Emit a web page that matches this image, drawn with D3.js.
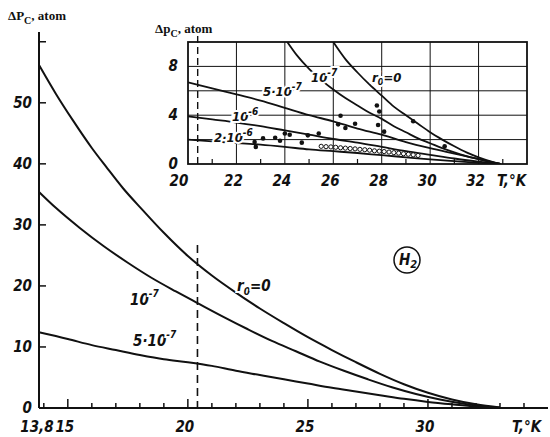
<!DOCTYPE html>
<html><head><meta charset="utf-8">
<script src="https://cdn.jsdelivr.net/npm/d3@7"></script>
<style>
body{margin:0;background:#fff}
svg{display:block}
.num{font-family:"Liberation Sans Narrow","DejaVu Sans Condensed",sans-serif;font-style:italic;font-weight:bold;font-size:15px;fill:#111}
.sm{font-size:13px}
.ttl{font-family:"Liberation Serif","DejaVu Serif",serif;font-weight:bold;font-size:13px;fill:#111}
.halo{stroke:#fff;stroke-width:4px;paint-order:stroke}
</style></head><body><div id="viz"></div><script>
// main panel curves [T, dP]
var mainR0 = [[13.8,56.2],[14.5,51.5],[15.2,47.2],[16,42.6],[16.6,39.5],[17.3,36],[18.1,32.5],[19,28.7],[20,24.9],[21,21.7],[22,18.9],[23,16.3],[24,13.9],[25,11.6],[26,9.5],[27,7.5],[28,5.6],[29,3.9],[30,2.5],[31,1.4],[32,0.6],[33,0.1]]
var main1e7 = [[13.8,35.4],[14.5,32.8],[15.5,29.5],[16.5,26.5],[17.5,23.8],[18.5,21.3],[19.5,19.1],[20.4,17.2],[21.5,14.9],[22.5,12.9],[23.5,11.0],[24.5,9.3],[25.5,7.6],[26.5,6.1],[27.5,4.7],[28.5,3.4],[29.5,2.3],[30.5,1.4],[31.5,0.7],[32.5,0.2],[33,0.05]]
var main5e7 = [[13.8,12.4],[15,11.3],[16,10.3],[17,9.5],[18,8.7],[19,8.0],[20,7.5],[21,6.9],[22,6.1],[23,5.4],[24,4.7],[25,4.0],[26,3.3],[27,2.7],[28,2.1],[29,1.5],[30,1.0],[31,0.6],[32,0.25],[33,0.05]]

// inset curves
var insR0 = [[26.0,10],[26.5,8.6],[27,7.5],[27.5,6.5],[28,5.6],[28.5,4.7],[29,4.0],[29.5,3.3],[30,2.6],[30.5,2.0],[31,1.45],[31.5,0.95],[32,0.55],[32.5,0.22],[32.9,0]]
var ins1e7 = [[24.1,10],[24.5,8.9],[25,7.8],[25.5,6.9],[26,6.1],[26.5,5.4],[27,4.8],[27.5,4.2],[28,3.7],[28.5,3.1],[29,2.6],[29.5,2.1],[30,1.7],[30.5,1.3],[31,0.95],[31.5,0.65],[32,0.4],[32.5,0.15],[32.9,0]]
var ins5e7 = [[20,6.7],[21,6.2],[22,5.7],[23,5.2],[24,4.6],[25,4.0],[26,3.5],[27,2.9],[28,2.4],[29,1.8],[30,1.3],[31,0.85],[32,0.4],[32.9,0]]
var ins1e6 = [[20,3.9],[21,3.65],[22,3.4],[23,3.1],[24,2.75],[25,2.4],[26,2.05],[27,1.75],[28,1.4],[29,1.05],[30,0.75],[31,0.45],[32,0.2],[32.9,0]]
var ins2e6 = [[20,2.0],[21,1.85],[22,1.72],[23,1.58],[24,1.4],[25,1.2],[26,1.05],[27,0.9],[28,0.72],[29,0.55],[30,0.38],[31,0.24],[32,0.1],[32.9,0]]

var dotsFilled = [[22.75,1.8],[22.8,1.4],[23.1,2.1],[23.6,2.15],[23.8,1.9],[24.0,2.5],[24.2,2.4],[24.7,1.75],[24.95,2.35],[25.4,2.5],[26.3,3.95],[26.2,3.25],[26.5,2.95],[26.9,3.3],[27.8,4.8],[27.9,4.3],[27.85,3.2],[28.1,2.65],[29.3,3.5],[30.6,1.45]]
var dotsOpen = [[25.5,1.45],[25.7,1.42],[25.9,1.4],[26.1,1.37],[26.3,1.33],[26.5,1.3],[26.7,1.27],[26.9,1.24],[27.1,1.2],[27.3,1.17],[27.5,1.13],[27.7,1.08],[27.9,1.05],[28.1,1.02],[28.3,0.98],[28.5,0.93],[28.7,0.89],[28.9,0.84],[29.1,0.8],[29.3,0.75],[29.5,0.7]]

var mainXTicks = [13.8,15,20,25,30]
var mainXLabels = ['13,8','15','20','25','30']
var mainYTicks = [0,10,20,30,40,50]
var insXTicks = [20,22,24,26,28,30,32]
var insYTicks = [0,4,8]
var tBoil = 20.4

var w = 550, h = 437

var svg = d3.select('#viz').append('svg')
  .attr('width', w).attr('height', h)

var x = d3.scaleLinear().domain([13.8, 35]).range([39, 548])
var y = d3.scaleLinear().domain([0, 61.6]).range([408, 32])

var line = d3.line().x(d => x(d[0])).y(d => y(d[1])).curve(d3.curveMonotoneX)

// axes
svg.append('line').attr('x1', x(13.8)).attr('x2', x(13.8)).attr('y1', y(61.6)).attr('y2', y(0))
  .attr('stroke', '#111').attr('stroke-width', 2)
svg.append('line').attr('x1', x(13.8)).attr('x2', x(35)).attr('y1', y(0)).attr('y2', y(0))
  .attr('stroke', '#111').attr('stroke-width', 2)

svg.selectAll('.yt').data(d3.range(10, 61, 10)).enter().append('line')
  .attr('x1', x(13.8)).attr('x2', x(13.8) + 7)
  .attr('y1', d => y(d)).attr('y2', d => y(d))
  .attr('stroke', '#111').attr('stroke-width', 1.5)

svg.selectAll('.xt').data(d3.range(14, 35)).enter().append('line')
  .attr('x1', d => x(d)).attr('x2', d => x(d))
  .attr('y1', y(0)).attr('y2', d => y(0) - (d % 5 == 0 ? 9 : 5))
  .attr('stroke', '#111').attr('stroke-width', 1.5)

svg.selectAll('.yl').data(mainYTicks).enter().append('text')
  .attr('class', 'num').attr('text-anchor', 'end')
  .attr('x', 32).attr('y', d => y(d) + 5).text(d => d)

svg.selectAll('.xl').data(mainXTicks).enter().append('text')
  .attr('class', 'num').attr('text-anchor', 'middle')
  .attr('x', (d, i) => x(d) - (i == 0 ? 2 : 3)).attr('y', 432)
  .text((d, i) => mainXLabels[i])

svg.append('text').attr('class', 'num').attr('x', 512).attr('y', 432).text('T,°K')

var t1 = svg.append('text').attr('class', 'ttl').attr('x', 8).attr('y', 20)
t1.append('tspan').text('ΔP')
t1.append('tspan').attr('dy', 4).attr('font-size', 10).text('C')
t1.append('tspan').attr('dy', -4).text(', atom')

// boiling point
svg.append('line').attr('x1', x(tBoil)).attr('x2', x(tBoil)).attr('y1', 245).attr('y2', y(0))
  .attr('stroke', '#111').attr('stroke-width', 1.6).attr('stroke-dasharray', '8,5')

svg.selectAll('.mc').data([mainR0, main1e7, main5e7]).enter().append('path')
  .attr('d', line).attr('fill', 'none').attr('stroke', '#111').attr('stroke-width', 2)

function pow10(sel, pre, ex, up) {
  sel.append('tspan').text(pre)
  sel.append('tspan').attr('dy', -(up || 8)).attr('font-size', 10).text(ex)
}

var lb = svg.append('text').attr('class', 'num halo').attr('x', 237).attr('y', 291)
lb.append('tspan').text('r')
lb.append('tspan').attr('dy', 4).attr('font-size', 10).text('0')
lb.append('tspan').attr('dy', -4).text('=0')

pow10(svg.append('text').attr('class', 'num halo').attr('x', 130).attr('y', 305), '10', '-7')
pow10(svg.append('text').attr('class', 'num halo').attr('x', 133).attr('y', 346), '5·10', '-7')

// H2 mark
svg.append('circle').attr('cx', 407).attr('cy', 260).attr('r', 13)
  .attr('fill', 'none').attr('stroke', '#111').attr('stroke-width', 1.5)
var h2 = svg.append('text').attr('class', 'num').attr('x', 399).attr('y', 265)
h2.append('tspan').text('H')
h2.append('tspan').attr('dy', 3).attr('font-size', 11).text('2')

// inset
var xi = d3.scaleLinear().domain([20, 34]).range([188, 527])
var yi = d3.scaleLinear().domain([0, 10]).range([164, 42])
var lineI = d3.line().x(d => xi(d[0])).y(d => yi(d[1])).curve(d3.curveMonotoneX)

var ins = svg.append('g')
ins.append('rect').attr('x', xi(20)).attr('y', yi(10)).attr('width', xi(34) - xi(20)).attr('height', yi(0) - yi(10))
  .attr('fill', '#fff')

ins.selectAll('.gv').data(d3.range(22, 34, 2)).enter().append('line')
  .attr('x1', d => xi(d)).attr('x2', d => xi(d)).attr('y1', yi(0)).attr('y2', yi(10))
  .attr('stroke', '#111').attr('stroke-width', 1)
ins.selectAll('.gh').data(d3.range(2, 10, 2)).enter().append('line')
  .attr('x1', xi(20)).attr('x2', xi(34)).attr('y1', d => yi(d)).attr('y2', d => yi(d))
  .attr('stroke', '#111').attr('stroke-width', 1)
ins.selectAll('.mt').data(d3.range(21, 34, 2)).enter().append('line')
  .attr('x1', d => xi(d)).attr('x2', d => xi(d)).attr('y1', yi(0)).attr('y2', yi(0) - 5)
  .attr('stroke', '#111').attr('stroke-width', 1.2)
ins.append('rect').attr('x', xi(20)).attr('y', yi(10)).attr('width', xi(34) - xi(20)).attr('height', yi(0) - yi(10))
  .attr('fill', 'none').attr('stroke', '#111').attr('stroke-width', 1.8)

ins.append('line').attr('x1', xi(tBoil)).attr('x2', xi(tBoil)).attr('y1', 36).attr('y2', yi(0))
  .attr('stroke', '#111').attr('stroke-width', 1.4).attr('stroke-dasharray', '7,4')

ins.append('clipPath').attr('id', 'clipI').append('rect')
  .attr('x', xi(20)).attr('y', yi(10)).attr('width', xi(34) - xi(20)).attr('height', yi(0) - yi(10))

ins.append('g').attr('clip-path', 'url(#clipI)')
  .selectAll('path').data([insR0, ins1e7, ins5e7, ins1e6, ins2e6]).enter().append('path')
  .attr('d', lineI).attr('fill', 'none').attr('stroke', '#111').attr('stroke-width', 1.8)

ins.selectAll('.df').data(dotsFilled).enter().append('circle')
  .attr('cx', d => xi(d[0])).attr('cy', d => yi(d[1])).attr('r', 2.3).attr('fill', '#111')
ins.selectAll('.do').data(dotsOpen).enter().append('circle')
  .attr('cx', d => xi(d[0])).attr('cy', d => yi(d[1])).attr('r', 2.1)
  .attr('fill', '#fff').attr('stroke', '#111').attr('stroke-width', 1)

ins.selectAll('.il').data(insXTicks).enter().append('text')
  .attr('class', 'num').attr('text-anchor', 'middle')
  .attr('x', (d, i) => xi(d) - (i == 0 ? 9 : 3)).attr('y', 186).text(d => d)
ins.append('text').attr('class', 'num').attr('x', 497).attr('y', 186).text('T,°K')
ins.selectAll('.iy').data(insYTicks).enter().append('text')
  .attr('class', 'num').attr('text-anchor', 'end')
  .attr('x', 178).attr('y', d => yi(d) + 5).text(d => d)

var t2 = svg.append('text').attr('class', 'ttl').attr('x', 155).attr('y', 33)
t2.append('tspan').text('Δp')
t2.append('tspan').attr('dy', 4).attr('font-size', 10).text('C')
t2.append('tspan').attr('dy', -4).text(', atom')

var il = ins.append('text').attr('class', 'num sm halo').attr('x', 372).attr('y', 82)
il.append('tspan').text('r')
il.append('tspan').attr('dy', 3).attr('font-size', 9).text('0')
il.append('tspan').attr('dy', -3).text('=0')
pow10(ins.append('text').attr('class', 'num sm halo').attr('x', 311).attr('y', 82), '10', '-7', 6)
pow10(ins.append('text').attr('class', 'num sm halo').attr('x', 263).attr('y', 96), '5·10', '-7', 6)
pow10(ins.append('text').attr('class', 'num sm halo').attr('x', 232).attr('y', 121), '10', '-6', 6)
pow10(ins.append('text').attr('class', 'num sm halo').attr('x', 214).attr('y', 142), '2·10', '-6', 6)
</script></body></html>
